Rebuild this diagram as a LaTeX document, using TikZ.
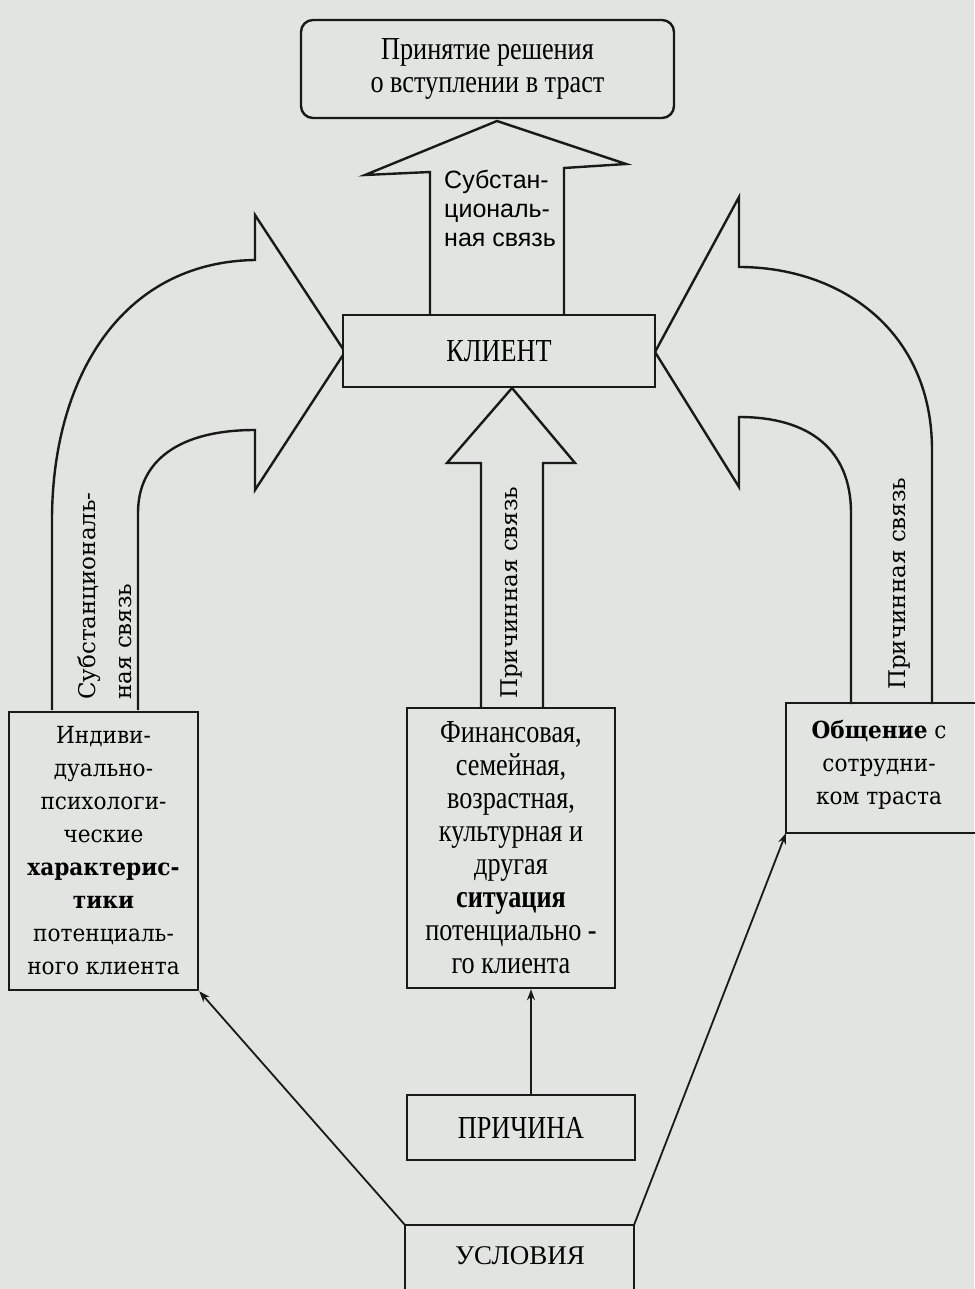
\documentclass[tikz,border=0pt]{standalone}
\usepackage{fontspec}
\setmainfont{Liberation Serif}
\newfontfamily\cond[FakeStretch=0.82]{Liberation Serif}
\newfontfamily\wide[FakeStretch=0.92]{DejaVu Serif}
\newfontfamily\widen{DejaVu Serif}
\newfontfamily\sansf{Liberation Sans}
\usetikzlibrary{arrows.meta,calc}
\definecolor{bg}{RGB}{226,228,226}
\definecolor{ink}{RGB}{25,25,25}
\begin{document}
\begin{tikzpicture}[x=1pt,y=-1pt,
  box/.style={draw=ink, line width=2.4pt, fill=bg, inner sep=0pt, align=center},
  blk/.style={draw=ink, line width=2.4pt, fill=bg, line join=miter},
  border/.style={draw=ink, line width=2.4pt},
  thinarrow/.style={draw=ink, line width=1.8pt, -{Stealth[length=11pt,width=8pt]}},
  ct/.style={font=\cond\fontsize{32}{33}\selectfont},
  wt/.style={font=\wide\fontsize{23.5}{33}\selectfont},
  rt/.style={font=\widen\fontsize{23}{28}\selectfont, rotate=90, anchor=base west, inner sep=0pt}
]
\fill[bg] (0,0) rectangle (974,1289);
\useasboundingbox (0,0) rectangle (974,1289);

% block arrows
\draw[blk] (430,316) -- (430,172) -- (365,175) -- (497,121) -- (626,164) -- (564,168) -- (564,316);
\draw[blk] (52,710) -- (52,520) .. controls (52,380) and (120,262) .. (255,260) -- (255,215) -- (345,352)
  -- (255,490) -- (255,430) .. controls (180,430) and (138,460) .. (138,513) -- (138,710);
\draw[blk] (932,704) -- (932,450) .. controls (932,330) and (840,267) .. (739,267) -- (739,197) -- (655,352)
  -- (739,487) -- (739,417) .. controls (810,417) and (851,450) .. (851,513) -- (851,704);
\draw[blk] (481,709) -- (481,463) -- (447,463) -- (512,388) -- (575,463) -- (543,463) -- (543,709);

% boxes
\node[box, rounded corners=12pt, minimum width=373pt, minimum height=98pt, ct] (top) at (487.5,69)
  {Принятие решения\\о вступлении в траст};
\node[box, minimum width=312pt, minimum height=72pt, ct] (client) at (499,351) {КЛИЕНТ};
\node[box, minimum width=189pt, minimum height=278pt, wt] (indiv) at (103.5,851)
  {Индиви-\\дуально-\\психологи-\\ческие\\\textbf{характерис-}\\\textbf{тики}\\потенциаль-\\ного клиента};
\node[box, minimum width=208pt, minimum height=280pt, ct] (fin) at (511,848)
  {Финансовая,\\семейная,\\возрастная,\\культурная и\\другая\\\textbf{ситуация}\\потенциально -\\го клиента};
\node[inner sep=0pt, align=center, wt] (obsh) at (879,765) {\textbf{Общение} с\\сотрудни-\\ком траста};
\draw[border] (980,703) -| (786,833) -- (980,833);
\coordinate (obshSW) at (786,833);
\node[box, minimum width=228pt, minimum height=65pt, ct] (prich) at (521,1127.5) {ПРИЧИНА};
\node[inner sep=0pt, font=\fontsize{27}{30}\selectfont] (usl) at (520,1256) {УСЛОВИЯ};
\draw[border] (405,1295) |- (634,1225) -- (634,1295);
\coordinate (uslNW) at (405,1225);
\coordinate (uslNE) at (634,1225);

% labels
\node[anchor=north west, inner sep=0pt, align=left, font=\sansf\fontsize{25}{29}\selectfont] (lab0) at (444,170)
  {Субстан-\\циональ-\\ная связь};
\node[rt] (lab1) at (95,700) {Субстанциональ-};
\node[rt] (lab2) at (131,700) {ная связь};
\node[rt] (lab3) at (517,699) {Причинная связь};
\node[rt] (lab4) at (905,690) {Причинная связь};

% thin connectors
\draw[thinarrow] (uslNW) -- (indiv.south east);
\draw[thinarrow] ([xshift=10pt]prich.north) -- ([xshift=10pt]prich.north |- fin.south);
\draw[thinarrow] (uslNE) -- (obshSW);
\end{tikzpicture}
\end{document}
